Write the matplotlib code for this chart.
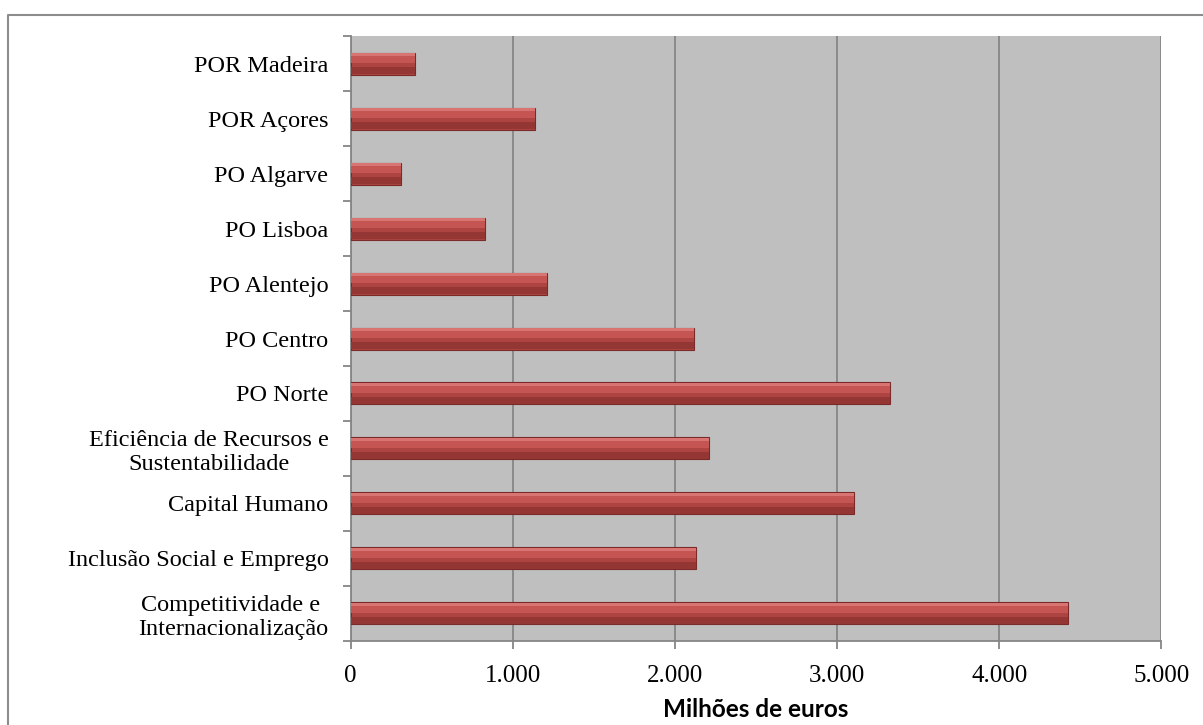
import matplotlib.pyplot as plt
from matplotlib.lines import Line2D
from matplotlib.ticker import FixedLocator, FuncFormatter

# Data (millions of euros), bottom to top
programas = ['Competitividade e \nInternacionalização',
             'Inclusão Social e Emprego',
             'Capital Humano',
             'Eficiência de Recursos e\nSustentabilidade',
             'PO Norte',
             'PO Centro',
             'PO Alentejo',
             'PO Lisboa',
             'PO Algarve',
             'POR Açores',
             'POR Madeira']
valores = [4422, 2129, 3102, 2211, 3327, 2118, 1211, 827, 312, 1136, 397]
x_ticks = [0, 1000, 2000, 3000, 4000, 5000]

fig = plt.figure(figsize=(12.03, 7.25), dpi=100)
ax = fig.add_axes([0.2915, 0.1159, 0.674, 0.8344])

grid_col = '#868686'
ax.set_facecolor('#BFBFBF')
ypos = list(range(len(programas)))
h = 0.40

# bevelled bars: body, dark lower part, light upper band, thin top highlight
ax.barh(ypos, valores, height=h, color='#AD4442', edgecolor='#7A2A29',
        linewidth=0.8, zorder=3)
ax.barh([y - 0.13 for y in ypos], valores, height=0.12, color='#933634',
        linewidth=0, zorder=4)
ax.barh([y + 0.08 for y in ypos], valores, height=0.13, color='#C45553',
        linewidth=0, zorder=4)
ax.barh([y + 0.165 for y in ypos], valores, height=0.04, color='#D87472',
        linewidth=0, zorder=5)

ax.set_xlim(0, 5000)
ax.set_ylim(-0.5, len(programas) - 0.5)
ax.xaxis.set_major_locator(FixedLocator(x_ticks))
ax.xaxis.set_major_formatter(FuncFormatter(lambda v, p: f'{int(v):,}'.replace(',', '.')))
ax.grid(axis='x', color=grid_col, linewidth=1.3, zorder=1)
ax.set_axisbelow(True)

ax.set_yticks(ypos)
ax.set_yticklabels(programas)
for lab in ax.get_yticklabels():
    lab.set_multialignment('center')
ax.yaxis.set_minor_locator(FixedLocator([y - 0.5 for y in range(len(programas) + 1)]))
ax.tick_params(axis='y', which='major', length=0, pad=16,
               labelsize=17.5, labelfontfamily='Liberation Serif', colors='#000000')
ax.tick_params(axis='y', which='minor', length=6, width=1.3, color=grid_col)
ax.tick_params(axis='x', length=6, width=1.3, color=grid_col, pad=11,
               labelsize=18, labelfontfamily='Liberation Serif')

for s in ['top', 'right']:
    ax.spines[s].set_visible(False)
for s in ['left', 'bottom']:
    ax.spines[s].set_color(grid_col)
    ax.spines[s].set_linewidth(1.3)

ax.set_xlabel('Milhões de euros', fontsize=17.5, fontweight='bold',
              family=['Liberation Sans Narrow', 'Lato', 'DejaVu Sans'], labelpad=8)

# chart frame (only top and left edges fall inside the picture)
fig.add_artist(Line2D([8 / 1203, 8 / 1203, 1.0], [0.0, 1 - 15 / 725, 1 - 15 / 725],
                      transform=fig.transFigure, color='#8C8C8C', linewidth=1.5))

fig.savefig('out.png', dpi=100)
